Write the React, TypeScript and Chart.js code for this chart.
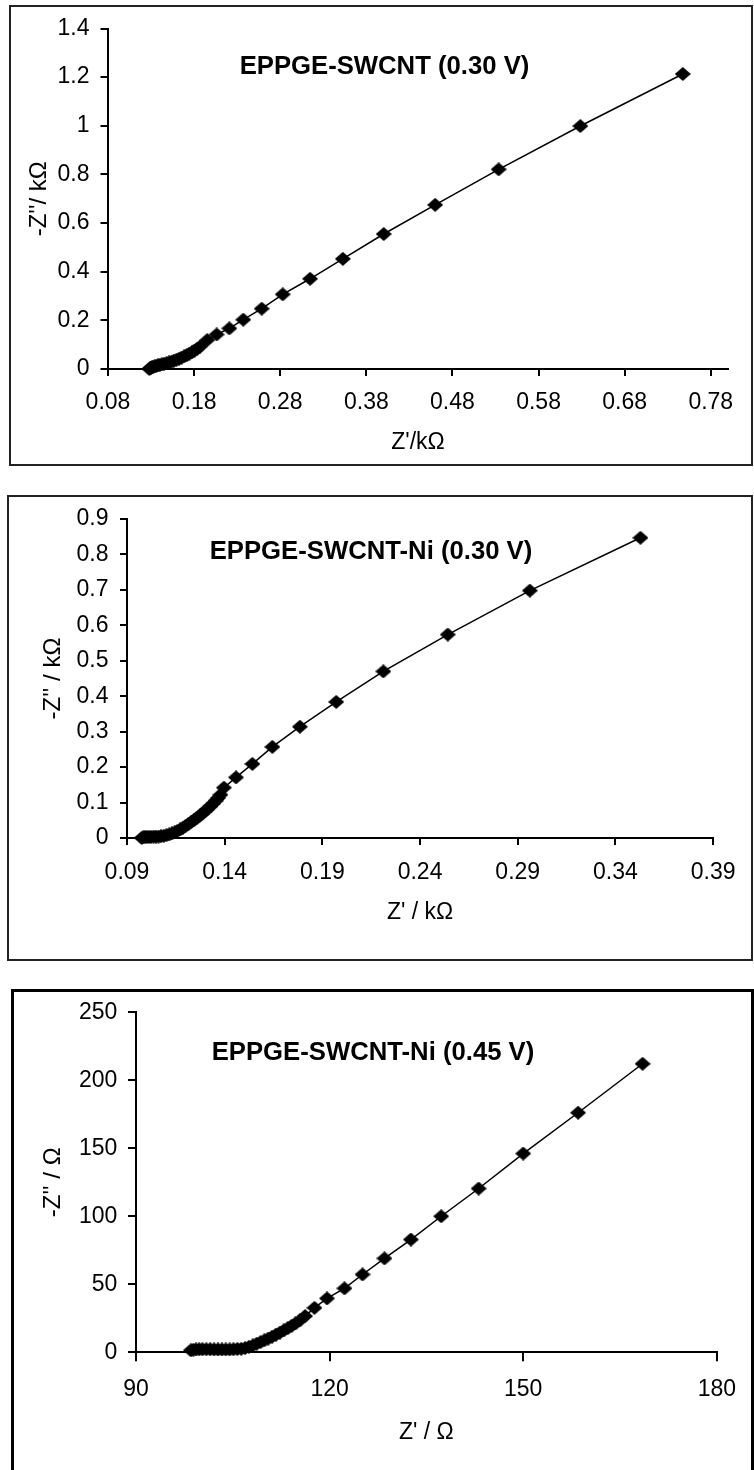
import React, { useEffect, useRef } from "react";
import { Chart, registerables } from "chart.js";

Chart.register(...registerables);

// ---------------- DATA ----------------
// Panel 1: EPPGE-SWCNT (0.30 V), kΩ
const zReal1 = [0.1280, 0.1288, 0.1298, 0.1310, 0.1325, 0.1342, 0.1360, 0.1380, 0.1402, 0.1425, 0.1450, 0.1478, 0.1507, 0.1536, 0.1565, 0.1595, 0.1625, 0.1655, 0.1685, 0.1715, 0.1745, 0.1775, 0.1805, 0.1835, 0.1869, 0.1953, 0.2062, 0.2209, 0.2371, 0.2585, 0.2829, 0.3147, 0.3527, 0.4002, 0.4599, 0.5337, 0.6285, 0.7475];
const zImag1 = [0.000, 0.003, 0.005, 0.007, 0.009, 0.011, 0.013, 0.015, 0.017, 0.019, 0.021, 0.024, 0.027, 0.030, 0.034, 0.038, 0.042, 0.047, 0.052, 0.057, 0.063, 0.069, 0.076, 0.083, 0.092, 0.119, 0.142, 0.167, 0.203, 0.248, 0.307, 0.371, 0.453, 0.555, 0.675, 0.821, 0.999, 1.213];
const xTicks1 = [0.08, 0.18, 0.28, 0.38, 0.48, 0.58, 0.68, 0.78];
const xTickLabels1 = ["0.08", "0.18", "0.28", "0.38", "0.48", "0.58", "0.68", "0.78"];
const yTicks1 = [0, 0.2, 0.4, 0.6, 0.8, 1, 1.2, 1.4];
const yTickLabels1 = ["0", "0.2", "0.4", "0.6", "0.8", "1", "1.2", "1.4"];
const title1 = "EPPGE-SWCNT (0.30 V)";
const xTitle1 = "Z'/kΩ";
const yTitle1 = "-Z''/ kΩ";

// Panel 2: EPPGE-SWCNT-Ni (0.30 V), kΩ
const zReal2 = [0.0975, 0.0983, 0.0992, 0.1002, 0.1013, 0.1024, 0.1036, 0.1048, 0.1061, 0.1074, 0.1088, 0.1102, 0.1116, 0.1130, 0.1144, 0.1158, 0.1172, 0.1186, 0.1200, 0.1214, 0.1228, 0.1242, 0.1256, 0.1270, 0.1284, 0.1298, 0.1312, 0.1326, 0.1340, 0.1354, 0.1366, 0.1378, 0.1396, 0.1458, 0.1542, 0.1644, 0.1785, 0.1971, 0.2212, 0.2542, 0.2962, 0.3528];
const zImag2 = [0.000, 0.002, 0.003, 0.003, 0.003, 0.003, 0.004, 0.004, 0.004, 0.005, 0.006, 0.008, 0.010, 0.013, 0.016, 0.020, 0.024, 0.029, 0.034, 0.039, 0.045, 0.050, 0.056, 0.062, 0.068, 0.075, 0.082, 0.089, 0.097, 0.105, 0.113, 0.122, 0.142, 0.171, 0.209, 0.257, 0.314, 0.384, 0.470, 0.574, 0.698, 0.847];
const xTicks2 = [0.09, 0.14, 0.19, 0.24, 0.29, 0.34, 0.39];
const xTickLabels2 = ["0.09", "0.14", "0.19", "0.24", "0.29", "0.34", "0.39"];
const yTicks2 = [0, 0.1, 0.2, 0.3, 0.4, 0.5, 0.6, 0.7, 0.8, 0.9];
const yTickLabels2 = ["0", "0.1", "0.2", "0.3", "0.4", "0.5", "0.6", "0.7", "0.8", "0.9"];
const title2 = "EPPGE-SWCNT-Ni (0.30 V)";
const xTitle2 = "Z' / kΩ";
const yTitle2 = "-Z'' / kΩ";

// Panel 3: EPPGE-SWCNT-Ni (0.45 V), Ω
const zReal3 = [98.5, 98.9, 99.3, 99.8, 100.3, 100.9, 101.5, 102.1, 102.7, 103.3, 103.9, 104.5, 105.1, 105.7, 106.3, 106.9, 107.5, 108.1, 108.7, 109.3, 109.9, 110.5, 111.1, 111.7, 112.3, 112.9, 113.5, 114.1, 114.7, 115.4, 116.2, 117.65, 119.6, 122.3, 125.1, 128.5, 132.6, 137.3, 143.1, 150.0, 158.5, 168.5];
const zImag3 = [1.5, 1.9, 2.1, 2.2, 2.2, 2.2, 2.2, 2.1, 2.1, 2.1, 2.1, 2.1, 2.2, 2.4, 2.6, 3.1, 4.0, 5.0, 6.3, 7.5, 8.8, 10.1, 11.5, 13.0, 14.5, 16.1, 17.7, 19.4, 21.2, 23.5, 26.6, 32.7, 39.6, 47.0, 57.2, 69.0, 82.9, 100.0, 120.4, 146.1, 176.1, 212.1];
const xTicks3 = [90, 120, 150, 180];
const xTickLabels3 = ["90", "120", "150", "180"];
const yTicks3 = [0, 50, 100, 150, 200, 250];
const yTickLabels3 = ["0", "50", "100", "150", "200", "250"];
const title3 = "EPPGE-SWCNT-Ni (0.45 V)";
const xTitle3 = "Z' / Ω";
const yTitle3 = "-Z'' / Ω";

// ---------------- LAYOUT / STYLE ----------------
const FONT = '"Liberation Sans", Arial, Helvetica, sans-serif';

const panels: any[] = [
  {
    xs: zReal1, ys: zImag1, xTicks: xTicks1, xLabels: xTickLabels1, yTicks: yTicks1, yLabels: yTickLabels1,
    title: title1, xTitle: xTitle1, yTitle: yTitle1,
    xMin: 0.08, xMax: 0.8, yMin: 0, yMax: 1.4,
    canvas: { left: 10, top: 6, w: 742, h: 459 },
    box: { l: 10, t: 6, r: 752, b: 465, bw: 2, color: "#222" },
    padTop: 20.5, padRight: 24, yW: 98, xH: 96,
    xTickLen: 7, yTickLen: 7.5, xTickPad: 15.5, yTickPad: 11,
    yTitlePad: 17, xTitlePad: 10.5,
    titlePos: { x: 374.5, y: 61 },
  },
  {
    xs: zReal2, ys: zImag2, xTicks: xTicks2, xLabels: xTickLabels2, yTicks: yTicks2, yLabels: yTickLabels2,
    title: title2, xTitle: xTitle2, yTitle: yTitle2,
    xMin: 0.09, xMax: 0.39, yMin: 0, yMax: 0.9,
    canvas: { left: 8, top: 496, w: 744, h: 464 },
    box: { l: 8, t: 496, r: 752, b: 960, bw: 2, color: "#222" },
    padTop: 20, padRight: 22, yW: 119, xH: 122,
    xTickLen: 7, yTickLen: 7, xTickPad: 16.5, yTickPad: 11.5,
    yTitlePad: 33, xTitlePad: 35.5,
    titlePos: { x: 363, y: 55.7 },
  },
  {
    xs: zReal3, ys: zImag3, xTicks: xTicks3, xLabels: xTickLabels3, yTicks: yTicks3, yLabels: yTickLabels3,
    title: title3, xTitle: xTitle3, yTitle: yTitle3,
    xMin: 90, xMax: 180, yMin: 0, yMax: 250,
    canvas: { left: 12, top: 990, w: 741, h: 480 },
    box: { l: 12, t: 990, r: 752.5, b: 1500, bw: 3, color: "#000" },
    padTop: 21.7, padRight: 22, yW: 124, xH: 117.7,
    xTickLen: 9, yTickLen: 8, xTickPad: 17, yTickPad: 10.7,
    yTitlePad: 29, xTitlePad: 25.5,
    titlePos: { x: 361, y: 62.5 },
  },
];

function makeDiamond(w: number, h: number) {
  const c = document.createElement("canvas");
  c.width = w;
  c.height = h;
  const ctx = c.getContext("2d") as CanvasRenderingContext2D;
  ctx.fillStyle = "#000";
  ctx.beginPath();
  ctx.moveTo(w / 2, 0);
  ctx.lineTo(w, h / 2);
  ctx.lineTo(w / 2, h);
  ctx.lineTo(0, h / 2);
  ctx.closePath();
  ctx.fill();
  return c;
}

const boxTitlePlugin = {
  id: "boxTitle",
  afterDraw(chart: any, _args: any, opts: any) {
    if (!opts || !opts.text) return;
    const ctx = chart.ctx;
    ctx.save();
    ctx.font = `bold ${opts.size}px ${FONT}`;
    ctx.fillStyle = "#000";
    ctx.textAlign = "center";
    ctx.textBaseline = "middle";
    ctx.fillText(opts.text, opts.x, opts.y);
    ctx.restore();
  },
};

function buildConfig(p: any): any {
  const diamond = makeDiamond(16, 14);
  const tickFont = { family: FONT, size: 23, lineHeight: 1 };
  const titleFont = { family: FONT, size: 23, lineHeight: 1 };
  const yTitleFont = { family: FONT, size: 24, lineHeight: 1 };
  return {
    type: "scatter",
    data: {
      datasets: [
        {
          data: p.xs.map((x: number, i: number) => ({ x, y: p.ys[i] })),
          showLine: true,
          borderColor: "#000",
          borderWidth: 1.5,
          backgroundColor: "#000",
          pointStyle: diamond,
          pointRadius: 7,
          pointHoverRadius: 7,
          tension: 0,
          clip: false,
        },
      ],
    },
    options: {
      responsive: false,
      animation: false,
      devicePixelRatio: 1,
      events: [],
      layout: { padding: { left: 0, top: p.padTop, right: p.padRight, bottom: 0 } },
      plugins: {
        legend: { display: false },
        tooltip: { enabled: false },
        title: { display: false },
        boxTitle: { text: p.title, x: p.titlePos.x, y: p.titlePos.y, size: 25.7 },
      },
      scales: {
        x: {
          type: "linear",
          position: "bottom",
          min: p.xMin,
          max: p.xMax,
          afterBuildTicks: (s: any) => {
            s.ticks = p.xTicks.map((v: number) => ({ value: v }));
          },
          afterFit: (s: any) => {
            s.height = p.xH;
          },
          ticks: {
            autoSkip: false,
            maxRotation: 0,
            minRotation: 0,
            color: "#000",
            font: tickFont,
            padding: p.xTickPad,
            callback: (_v: any, i: number) => p.xLabels[i],
          },
          grid: {
            drawOnChartArea: false,
            drawTicks: true,
            tickLength: p.xTickLen,
            color: "#000",
            lineWidth: 2,
          },
          border: { display: true, color: "#000", width: 2 },
          title: {
            display: true,
            text: p.xTitle,
            color: "#000",
            font: titleFont,
            padding: { top: 0, bottom: p.xTitlePad },
          },
        },
        y: {
          type: "linear",
          position: "left",
          min: p.yMin,
          max: p.yMax,
          afterBuildTicks: (s: any) => {
            s.ticks = p.yTicks.map((v: number) => ({ value: v }));
          },
          afterFit: (s: any) => {
            s.width = p.yW;
          },
          ticks: {
            autoSkip: false,
            color: "#000",
            font: tickFont,
            padding: p.yTickPad,
            callback: (_v: any, i: number) => p.yLabels[i],
          },
          grid: {
            drawOnChartArea: false,
            drawTicks: true,
            tickLength: p.yTickLen,
            color: "#000",
            lineWidth: 2,
          },
          border: { display: true, color: "#000", width: 2 },
          title: {
            display: true,
            text: p.yTitle,
            color: "#000",
            font: yTitleFont,
            padding: { top: p.yTitlePad, bottom: 0 },
          },
        },
      },
    },
    plugins: [boxTitlePlugin],
  };
}

function Panel({ p }: { p: any }) {
  const ref = useRef<HTMLCanvasElement | null>(null);
  useEffect(() => {
    if (!ref.current) return;
    const chart = new Chart(ref.current, buildConfig(p));
    return () => chart.destroy();
  }, [p]);
  const b = p.box;
  const c = p.canvas;
  return (
    <>
      <div
        style={{
          position: "absolute",
          boxSizing: "border-box",
          left: b.l - b.bw / 2,
          top: b.t - b.bw / 2,
          width: b.r - b.l + b.bw,
          height: b.b - b.t + b.bw,
          border: `${b.bw}px solid ${b.color}`,
        }}
      />
      <canvas
        ref={ref}
        width={c.w}
        height={c.h}
        style={{ position: "absolute", left: c.left, top: c.top, width: c.w, height: c.h }}
      />
    </>
  );
}

export default function App() {
  return (
    <div
      style={{
        position: "absolute",
        left: 0,
        top: 0,
        width: 754,
        height: 1470,
        overflow: "hidden",
        background: "#fff",
      }}
    >
      {panels.map((p, i) => (
        <Panel key={i} p={p} />
      ))}
    </div>
  );
}
